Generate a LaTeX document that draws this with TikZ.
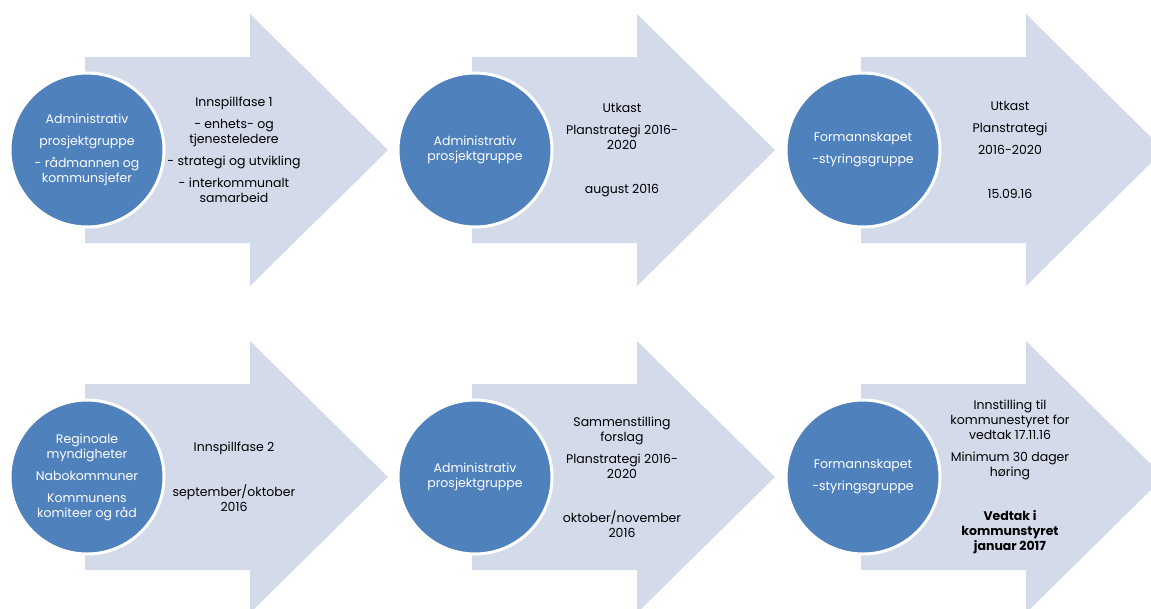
\documentclass[tikz,border=0pt]{standalone}
\usepackage{fontspec}
\setmainfont{Poppins}
\definecolor{arrowfill}{HTML}{D3DAEA}
\definecolor{circblue}{HTML}{4F81BD}
\tikzset{
  phase/.style={fill=arrowfill},
  actor/.style={circle, fill=circblue, draw=white, line width=3pt, minimum size=154pt,
    inner sep=0pt, text=white, align=center, font=\fontsize{12.5}{15}\selectfont},
  note/.style={align=center, text=black, font=\fontsize{12.5}{15}\selectfont}
}

\begin{document}
\begin{tikzpicture}[x=1pt,y=-1pt]
        \useasboundingbox (0,0) rectangle (1151,608);
        \clip (0,0) rectangle (1151,608);

        % the six phase arrows
        \foreach \x/\y in {85/150, 472/150, 861/150, 85/477, 472/477, 861/477}
          \fill[phase] (\x,\y-93) -- (\x+165,\y-93) -- (\x+165,\y-136) -- (\x+303,\y)
            -- (\x+165,\y+136) -- (\x+165,\y+93) -- (\x,\y+93) -- cycle;

        % who
        \node[actor] (adm1) at (87,150) {Administrativ\\[7pt]prosjektgruppe\\[7pt]- rådmannen og\\kommunsjefer};
        \node[actor] (adm2) at (475,150) {Administrativ\\prosjektgruppe};
        \node[actor] (fsk1) at (863,150) {Formannskapet\\[7pt]-styringsgruppe};
        \node[actor] (reg) at (87,477) {Reginoale\\myndigheter\\[7pt]Nabokommuner\\[7pt]Kommunens\\komiteer og råd};
        \node[actor] (adm3) at (475,477) {Administrativ\\prosjektgruppe};
        \node[actor] (fsk2) at (863,477) {Formannskapet\\[7pt]-styringsgruppe};

        % what and when
        \node[note] (fase1) at (234,150) {Innspillfase 1\\[7pt]- enhets- og\\tjenesteledere\\[7pt]- strategi og utvikling\\[7pt]- interkommunalt\\samarbeid};
        \node[note] (utkast1) at (622,150) {Utkast\\[7pt]Planstrategi 2016-\\2020\\[29pt]august 2016};
        \node[note] (utkast2) at (1010,150) {Utkast\\[7pt]Planstrategi\\[7pt]2016-2020\\[29pt]15.09.16};
        \node[note] (fase2) at (234,477) {Innspillfase 2\\[29pt]september/oktober\\2016};
        \node[note] (forslag) at (622,477) {Sammenstilling\\forslag\\[7pt]Planstrategi 2016-\\2020\\[29pt]oktober/november\\2016};
        \node[note] (vedtak) at (1010,477) {Innstilling til\\kommunestyret for\\vedtak 17.11.16\\[7pt]Minimum 30 dager\\høring\\[29pt]\textbf{Vedtak i}\\\textbf{kommunstyret}\\\textbf{januar 2017}};
\end{tikzpicture}
\end{document}
